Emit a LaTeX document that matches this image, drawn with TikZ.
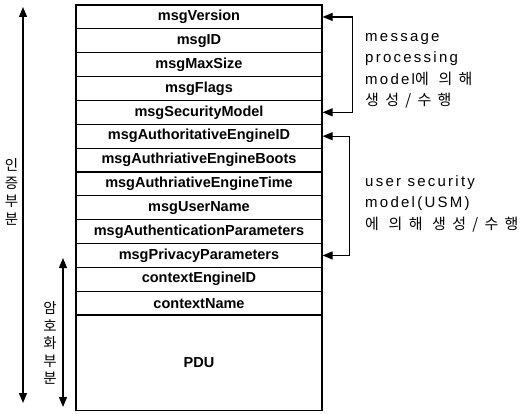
\documentclass[tikz,border=0pt]{standalone}
\usepackage{fontspec}
\setmainfont{Liberation Sans}
\newfontfamily\krfont[LetterSpace=42]{Noto Sans CJK KR}
\newfontfamily\spfont[LetterSpace=15]{Liberation Sans}
\newfontfamily\sidefont{Noto Sans CJK KR}
\usetikzlibrary{arrows.meta}

\tikzset{
  field/.style={draw, line width=1.2pt, minimum width=246pt, minimum height=23.85pt,
    inner sep=0pt, font=\bfseries\fontsize{14.5}{16}\selectfont},
  note/.style={anchor=north west, align=left, inner sep=0pt,
    font=\spfont\fontsize{15}{21.5}\selectfont},
  side/.style={align=center, inner sep=0pt, font=\sidefont\fontsize{14.5}{18}\selectfont},
  twoway/.style={{Triangle[length=10pt,width=8pt]}-{Triangle[length=10pt,width=8pt]},
    line width=1.2pt},
}

\begin{document}
\begin{tikzpicture}[x=1pt,y=-1pt]
  \useasboundingbox (0,0) rectangle (521,414);
  % header fields
  \node[field] (ver)  at (199,16.93)  {msgVersion};
  \node[field] (id)   at (199,40.78)  {msgID};
  \node[field] (max)  at (199,64.63)  {msgMaxSize};
  \node[field] (flg)  at (199,88.48)  {msgFlags};
  \node[field] (secm) at (199,112.33) {msgSecurityModel};
  \node[field] (eid)  at (199,136.18) {msgAuthoritativeEngineID};
  \node[field] (boot) at (199,160.03) {msgAuthriativeEngineBoots};
  \node[field] (time) at (199,183.88) {msgAuthriativeEngineTime};
  \node[field] (usr)  at (199,207.73) {msgUserName};
  \node[field] (auth) at (199,231.58) {msgAuthenticationParameters};
  \node[field] (priv) at (199,255.43) {msgPrivacyParameters};
  \node[field] (ceid) at (199,279.28) {contextEngineID};
  \node[field] (cnam) at (199,303.13) {contextName};
  \node[field, minimum height=95pt] (pdu) at (199,362.7) {PDU};

  % who builds what
  \draw[twoway] (ver.east) -- ++(30,0) |- (secm.east);
  \draw[twoway] (eid.east) -- ++(27,0) |- (priv.east);
  \node[note] (mpm) at (365,33) {message\\processing\\model{\krfont 에 의해}\\{\krfont 생성/수행}};
  \node[note] (usm) at (365,175) {user security\\model(USM)\\{\krfont 에 의해 생성/수행}};

  % covered parts
  \coordinate (atop) at (23,7);
  \coordinate (abot) at (23,403);
  \coordinate (etop) at (63,258);
  \coordinate (ebot) at (63,407);
  \draw[twoway] (atop) -- (abot);
  \draw[twoway] (etop) -- (ebot);
  \node[side] (authlbl) at (11.5,192) {인\\증\\부\\분};
  \node[side, font=\sidefont\fontsize{14.5}{17.5}\selectfont] (enclbl) at (50,343) {암\\호\\화\\부\\분};
\end{tikzpicture}
\end{document}
